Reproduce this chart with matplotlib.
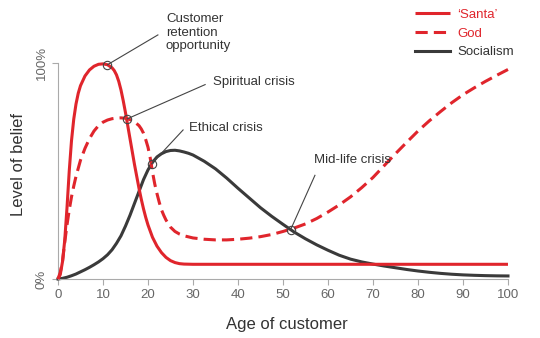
import numpy as np
import matplotlib
matplotlib.use("Agg")
import matplotlib.pyplot as plt

plt.rcParams['font.family'] = ['Liberation Sans', 'DejaVu Sans']

# values (age, level of belief in %)
santa_age = [0, 0.5, 1, 1.5, 2, 2.5, 3, 3.5, 4, 4.5, 5, 6, 7, 8, 9, 10, 11, 12, 12.5, 13,
             13.5, 14, 14.5, 15, 15.5, 16, 16.5, 17, 17.5, 18, 18.5, 19, 19.5, 20, 21, 22, 23, 24, 25, 26,
             27, 28, 30, 100]
santa_val = [0, 2, 8, 18, 33, 50, 64, 74, 81, 86, 89.5, 94, 96.8, 98.5, 99.4, 99.6, 99.2, 97.8, 96.5, 94.5,
             91.5, 87.5, 82.5, 77, 71, 65, 59, 53, 47.5, 42, 37, 32.5, 28.5, 25, 19.3, 15.2, 12.2, 10, 8.5, 7.6,
             7.1, 6.9, 6.8, 6.8]

god_age = [0, 0.5, 1, 1.5, 2, 2.5, 3, 3.5, 4, 5, 6, 7, 8, 9, 10, 11, 12, 13, 14, 15,
           16, 17, 18, 18.5, 19, 19.5, 20, 20.5, 21, 21.5, 22, 22.5, 23, 23.5, 24, 25, 26, 27, 28, 30,
           32.5, 35, 37.5, 40, 42.5, 45, 47.5, 50, 52.5, 55, 57.5, 60, 62.5, 65, 67.5, 70, 72.5, 75, 77.5, 80,
           82.5, 85, 87.5, 90, 92.5, 95, 97.5, 100]
god_val = [0, 3, 8, 17, 25, 32, 38, 43, 47.5, 55, 60.5, 65, 68.5, 71, 72.6, 73.6, 74.2, 74.5, 74.6, 74.4,
           73.8, 72.8, 71, 69.5, 67.5, 64.5, 61, 56, 49.5, 44, 39.5, 35.5, 32, 29.5, 27.3, 24, 22, 20.8, 20, 19,
           18.4, 18.1, 18.1, 18.4, 18.9, 19.6, 20.6, 22, 23.6, 25.5, 28, 31, 34.3, 38, 42.3, 47, 52.5, 58, 63.3, 68.5,
           73.2, 77.5, 81.6, 85.3, 88.5, 91.5, 94.3, 97]

soc_age = [0, 1, 2, 3, 4, 5, 6, 7, 8, 9, 10, 11, 12, 13, 14, 15, 16, 17, 18, 19,
           20, 21, 22, 23, 24, 25, 26, 27, 28, 29, 30, 32.5, 35, 37.5, 40, 42.5, 45, 47.5, 50, 52.5,
           55, 57.5, 60, 62.5, 65, 67.5, 70, 72.5, 75, 77.5, 80, 82.5, 85, 87.5, 90, 92.5, 95, 97.5, 100]
soc_val = [0, 0.3, 0.8, 1.5, 2.3, 3.3, 4.3, 5.4, 6.6, 7.9, 9.4, 11.2, 13.5, 16.5, 20, 24.5, 29.5, 35, 40.5, 46,
           50.5, 54, 56.5, 58, 59, 59.5, 59.6, 59.3, 58.8, 58.2, 57.4, 54.5, 51, 46.7, 42, 37.5, 33, 29, 25.3, 21.7,
           18.6, 15.8, 13.3, 11, 9.2, 7.9, 6.9, 6.0, 5.2, 4.4, 3.7, 3.1, 2.6, 2.2, 1.9, 1.7, 1.55, 1.45, 1.4]

# annotations: label, age of the marked point, which series, line end, text position
notes = [
    ("Customer\nretention\nopportunity", 11, "santa", (22.2, 113), (24, 123)),
    ("Spiritual crisis", 15.4, "god", (32.7, 90), (34.4, 91)),
    ("Ethical crisis", 20.8, "soc", (27.8, 69), (29.1, 70)),
    ("Mid-life crisis", 51.7, "soc", (57.1, 48), (56.9, 55)),
]

red = '#e0252c'
dark = '#3a3a3a'
txt = '#333333'

fig = plt.figure(figsize=(5.4, 3.38), dpi=100)
ax = fig.add_axes([0.1074, 0.1746, 0.8333, 0.639])

ax.plot(santa_age, santa_val, color=red, lw=2.2, label='\u2018Santa\u2019', clip_on=False,
        solid_capstyle='butt', zorder=3)
ax.plot(god_age, god_val, color=red, lw=2.2, dashes=(4, 2), label='God', clip_on=False, zorder=3)
ax.plot(soc_age, soc_val, color=dark, lw=2.2, label='Socialism', clip_on=False, zorder=2)

series = {"santa": (santa_age, santa_val), "god": (god_age, god_val), "soc": (soc_age, soc_val)}
for text, age, key, end, pos in notes:
    y = np.interp(age, *series[key])
    ax.plot([age, end[0]], [y, end[1]], color='#444444', lw=0.8, clip_on=False, zorder=4)
    ax.plot(age, y, 'o', ms=6, mfc='none', mec='#444444', mew=0.8, clip_on=False, zorder=5)
    va = 'top' if '\n' in text else 'center'
    ax.text(pos[0], pos[1], text, fontsize=9.5, color=txt, ha='left', va=va,
            linespacing=1.15)

ax.set_xlim(0, 100)
ax.set_ylim(0, 100)
ax.set_xticks(range(0, 101, 10))
ax.set_yticks([0, 100])
ax.set_yticklabels(['0%', '100%'], rotation=90, va='center')
for s in ['top', 'right']:
    ax.spines[s].set_visible(False)
for s in ['left', 'bottom']:
    ax.spines[s].set_color('#aaaaaa')
    ax.spines[s].set_linewidth(0.8)
ax.tick_params(colors='#aaaaaa', labelcolor='#666666', labelsize=9.5, length=4, width=0.8)

fig.text(0.531, 0.041, 'Age of customer', fontsize=12, color=txt, ha='center', va='center')
fig.text(0.034, 0.512, 'Level of belief', rotation=90, fontsize=12, color=txt,
         ha='center', va='center')

leg = fig.legend(loc='upper left', bbox_to_anchor=(0.768, 0.975), frameon=False,
                 fontsize=9.5, handlelength=2.7, handletextpad=0.55, labelspacing=0.5,
                 borderpad=0, borderaxespad=0)
for t, c in zip(leg.get_texts(), [red, red, txt]):
    t.set_color(c)

fig.savefig('out.png', dpi=100)
